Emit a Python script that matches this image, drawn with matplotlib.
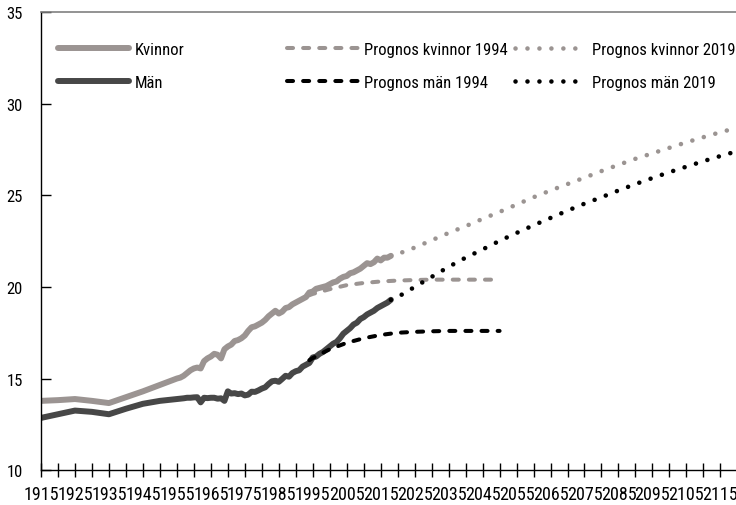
import matplotlib
matplotlib.use("Agg")
import matplotlib.pyplot as plt
from matplotlib.lines import Line2D
from matplotlib.legend import Legend

plt.rcParams["font.family"] = ["Roboto Condensed", "PT Sans Narrow", "Archivo Narrow",
                               "Liberation Sans Narrow", "DejaVu Sans"]
plt.rcParams["font.weight"] = "normal"

# historiska värden (återstående medellivslängd)
hist_years = [1915, 1920, 1925, 1930, 1935, 1940, 1945, 1950, 1955] + list(range(1956, 2019))
kvinnor = [13.78, 13.82, 13.88, 13.78, 13.66, 13.98, 14.3, 14.65, 15.0,
           15.05, 15.15, 15.3, 15.45, 15.55, 15.6, 15.55, 15.95, 16.1, 16.2,
           16.35, 16.3, 16.1, 16.6, 16.75, 16.85, 17.05, 17.1, 17.2, 17.35,
           17.6, 17.8, 17.85, 17.95, 18.05, 18.2, 18.4, 18.55, 18.7, 18.55,
           18.65, 18.85, 18.9, 19.05, 19.15, 19.25, 19.35, 19.45, 19.7, 19.75,
           19.9, 19.95, 20.0, 20.05, 20.15, 20.25, 20.3, 20.45, 20.55, 20.6,
           20.75, 20.8, 20.9, 21.0, 21.15, 21.3, 21.25, 21.35, 21.55, 21.45,
           21.6, 21.6, 21.7]
man = [12.85, 13.05, 13.25, 13.18, 13.05, 13.35, 13.62, 13.78, 13.88,
       13.9, 13.92, 13.95, 13.95, 13.97, 13.98, 13.7, 13.95, 13.93, 13.95,
       13.95, 13.9, 13.92, 13.78, 14.3, 14.18, 14.2, 14.15, 14.18, 14.08,
       14.12, 14.28, 14.27, 14.35, 14.45, 14.52, 14.7, 14.85, 14.88, 14.82,
       14.98, 15.15, 15.1, 15.3, 15.4, 15.45, 15.65, 15.75, 15.85, 16.15,
       16.2, 16.35, 16.45, 16.6, 16.75, 16.9, 17.0, 17.2, 17.45, 17.6,
       17.75, 17.95, 18.05, 18.25, 18.35, 18.5, 18.6, 18.7, 18.85, 18.95,
       19.05, 19.15, 19.3]

# prognoser
p1994_years = [1994, 1995, 2000, 2005, 2010, 2015, 2020, 2025, 2030, 2035, 2040, 2045, 2050]
p1994_kvinnor = [19.55, 19.62, 19.88, 20.1, 20.22, 20.3, 20.35, 20.38, 20.4, 20.4, 20.4, 20.4, 20.4]
p1994_man = [16.0, 16.12, 16.6, 16.95, 17.2, 17.38, 17.5, 17.55, 17.58, 17.6, 17.6, 17.6, 17.6]

p2019_years = [2018, 2020, 2025, 2030, 2035, 2040, 2045, 2050, 2055, 2060, 2065,
               2070, 2075, 2080, 2085, 2090, 2095, 2100, 2105, 2110, 2115, 2120]
p2019_kvinnor = [21.7, 21.8, 22.15, 22.55, 22.95, 23.32, 23.72, 24.1, 24.5, 24.9, 25.27,
                 25.62, 25.97, 26.33, 26.67, 27.0, 27.3, 27.6, 27.9, 28.18, 28.45, 28.7]
p2019_man = [19.3, 19.45, 20.0, 20.55, 21.1, 21.6, 22.05, 22.52, 22.95, 23.37, 23.77,
             24.17, 24.55, 24.9, 25.27, 25.62, 25.95, 26.27, 26.57, 26.87, 27.15, 27.42]

tick_years = list(range(1915, 2120, 5))
tick_labels = [str(y) if (y - 1915) % 10 == 0 else "" for y in tick_years]

GREY = "#9b9492"
DARK = "#474747"

fig = plt.figure(figsize=(7.36, 5.06), dpi=100)
ax = fig.add_axes([0.0557, 0.069, 0.9443, 0.9047])

ax.plot(hist_years, kvinnor, color=GREY, lw=4.3, solid_capstyle="round", solid_joinstyle="round")
ax.plot(hist_years, man, color=DARK, lw=4.3, solid_capstyle="round", solid_joinstyle="round")

dash = (0, (1.5, 2.5))
dot = (0, (0.01, 2.6))
ax.plot(p1994_years, p1994_kvinnor, color=GREY, lw=2.9, linestyle=dash, dash_capstyle="round")
ax.plot(p1994_years, p1994_man, color="black", lw=2.9, linestyle=dash, dash_capstyle="round")
ax.plot(p2019_years, p2019_kvinnor, color=GREY, lw=3.3, linestyle=dot, dash_capstyle="round")
ax.plot(p2019_years, p2019_man, color="black", lw=3.3, linestyle=dot, dash_capstyle="round")

ax.set_xlim(1915, 2119.6)
ax.set_ylim(10, 35)
ax.set_yticks([10, 15, 20, 25, 30, 35])
ax.set_xticks(tick_years)
ax.set_xticklabels(tick_labels)

ax.tick_params(axis="x", direction="inout", length=10, width=1, pad=5.5, labelsize=13, colors="black")
ax.tick_params(axis="y", direction="in", length=7, width=1, pad=13, labelsize=12)

ax.spines["right"].set_visible(False)
ax.spines["top"].set_color("#808080")
ax.spines["top"].set_linewidth(1.2)
ax.spines["left"].set_linewidth(1)
ax.spines["bottom"].set_linewidth(1)


def handle(color, lw, ls):
    return Line2D([], [], color=color, lw=lw, linestyle=ls,
                  solid_capstyle="round", dash_capstyle="round")


groups = [
    (0.0245, [handle(GREY, 4.3, "-"), handle(DARK, 4.3, "-")], ["Kvinnor", "Män"]),
    (0.354, [handle(GREY, 2.9, dash), handle("black", 2.9, dash)],
     ["Prognos kvinnor 1994", "Prognos män 1994"]),
    (0.682, [handle(GREY, 3.3, dot), handle("black", 3.3, dot)],
     ["Prognos kvinnor 2019", "Prognos män 2019"]),
]
for x0, hs, labels in groups:
    leg = Legend(ax, hs, labels, loc="upper left", bbox_to_anchor=(x0, 0.935),
                 frameon=False, fontsize=12, handlelength=4.25, handletextpad=0.35,
                 labelspacing=1.05, borderpad=0, borderaxespad=0)
    ax.add_artist(leg)

fig.savefig("out.png", dpi=100)
